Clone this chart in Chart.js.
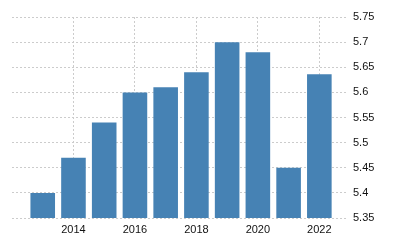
<!DOCTYPE html>
<html>
<head>
<meta charset="utf-8">
<script src="https://cdn.jsdelivr.net/npm/chart.js@4"></script>
<style>
  html, body { margin: 0; padding: 0; background: #fff; }
  #wrap { width: 400px; height: 250px; }
</style>
</head>
<body>
<div id="wrap"><canvas id="grafico"></canvas></div>
<script>
const anios = [2013, 2014, 2015, 2016, 2017, 2018, 2019, 2020, 2021, 2022];
const valores = [5.40, 5.47, 5.54, 5.60, 5.61, 5.64, 5.70, 5.68, 5.45, 5.636];
const ticksX = [2014, 2016, 2018, 2020, 2022];

const puntos = anios.map((a, i) => ({ x: a, y: valores[i] }));

new Chart(document.getElementById('grafico'), {
  type: 'bar',
  data: {
    datasets: [{
      data: puntos,
      backgroundColor: '#4682b4',
      borderWidth: 0,
      categoryPercentage: 1,
      barPercentage: 0.8
    }]
  },
  options: {
    responsive: true,
    maintainAspectRatio: false,
    animation: false,
    layout: { padding: { left: 12, top: 17, right: 0, bottom: 0 } },
    plugins: { legend: { display: false }, tooltip: { enabled: false } },
    scales: {
      x: {
        type: 'linear',
        offset: false,
        min: 2012,
        max: 2022.9,
        afterBuildTicks: (s) => { s.ticks = ticksX.map(v => ({ value: v })); },
        afterFit: (s) => { s.height = 32; },
        grid: { color: '#cccccc', drawTicks: false, offset: false },
        border: { display: false, dash: [2, 2] },
        ticks: {
          padding: 5,
          maxRotation: 0,
          color: '#111',
          font: { family: 'Liberation Sans, Arial', size: 11 },
          callback: (v) => String(v)
        }
      },
      y: {
        position: 'right',
        min: 5.35,
        max: 5.75,
        afterFit: (s) => { s.width = 53; },
        grid: { color: '#cccccc', drawTicks: false },
        border: { display: false, dash: [2, 2] },
        ticks: {
          stepSize: 0.05,
          padding: 6,
          color: '#111',
          font: { family: 'Liberation Sans, Arial', size: 11 },
          callback: (v) => String(+v.toFixed(2))
        }
      }
    }
  }
});
</script>
</body>
</html>
